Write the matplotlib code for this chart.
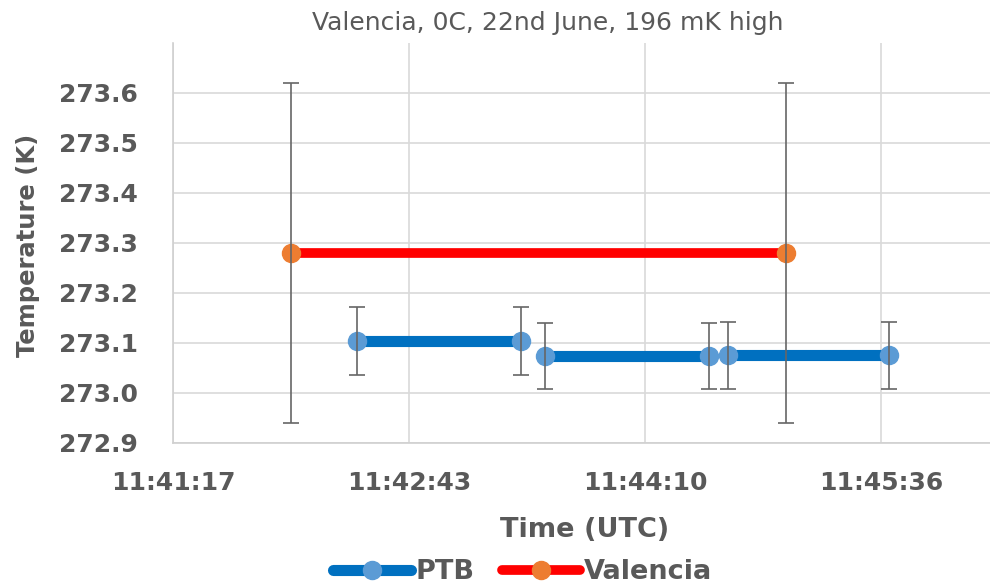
import numpy as np
import matplotlib
matplotlib.use('Agg')
import matplotlib.pyplot as plt
from matplotlib.ticker import FixedLocator, FuncFormatter

# data (times in UTC, None = break in line)
ptb_times = ['11:42:24', '11:43:24', None, '11:43:33', '11:44:33', None, '11:44:40', '11:45:39']
ptb_temp = [273.103, 273.103, None, 273.073, 273.073, None, 273.075, 273.075]
ptb_err = [0.068, 0.068, None, 0.066, 0.066, None, 0.067, 0.067]

val_times = ['11:42:00', '11:45:01']
val_temp = [273.28, 273.28]
val_err = [0.34, 0.34]

x_ticks = ['11:41:17', '11:42:43', '11:44:10', '11:45:36']
y_ticks = [272.9, 273.0, 273.1, 273.2, 273.3, 273.4, 273.5, 273.6]


def to_sec(t):
    if t is None:
        return np.nan
    h, m, s = t.split(':')
    return int(h) * 3600 + int(m) * 60 + int(s)


def as_float(v):
    return np.array([np.nan if a is None else a for a in v], dtype=float)


def fmt_time(x, pos):
    s = int(round(x))
    return '%d:%02d:%02d' % (s // 3600, (s % 3600) // 60, s % 60)


grey = '#595959'
px = as_float([to_sec(t) for t in ptb_times])
py = as_float(ptb_temp)
pe = as_float(ptb_err)
vx = as_float([to_sec(t) for t in val_times])
vy = as_float(val_temp)
ve = as_float(val_err)

# Excel axis: ticks every 0.001 day starting at 0.487 day
tick_pos = [0.487 * 86400 + i * 86.4 for i in range(len(x_ticks))]

fig = plt.figure(figsize=(9.9, 5.88), dpi=100)
ax = fig.add_axes([0.1747, 0.2466, 0.8253, 0.6803])

ax.plot(px, py, color='#0070C0', lw=8, solid_capstyle='round', marker='o',
        ms=13, mfc='#5B9BD5', mec='#5B9BD5', label='PTB', zorder=3)
ax.plot(vx, vy, color='#FF0000', lw=7, solid_capstyle='round', marker='o',
        ms=13, mfc='#ED7D31', mec='#ED7D31', label='Valencia', zorder=3)

ok = ~np.isnan(py)
ax.errorbar(px[ok], py[ok], yerr=pe[ok], fmt='none', ecolor='#666666',
            elinewidth=1.2, capsize=6, capthick=1.2, zorder=4)
ax.errorbar(vx, vy, yerr=ve, fmt='none', ecolor='#666666',
            elinewidth=1.2, capsize=6, capthick=1.2, zorder=4)

ax.set_xlim(tick_pos[0], tick_pos[0] + 299)
ax.set_ylim(272.9, 273.7)
ax.xaxis.set_major_locator(FixedLocator(tick_pos))
ax.xaxis.set_major_formatter(FuncFormatter(fmt_time))
ax.yaxis.set_major_locator(FixedLocator(y_ticks))
ax.yaxis.set_major_formatter(FuncFormatter(lambda v, p: '%.1f' % v))

ax.grid(True, color='#D9D9D9', lw=1.2, zorder=0)
ax.set_axisbelow(True)
for s in ['top', 'right']:
    ax.spines[s].set_visible(False)
for s in ['left', 'bottom']:
    ax.spines[s].set_color('#D0D0D0')
    ax.spines[s].set_linewidth(1.2)
ax.tick_params(length=0, colors=grey, labelsize=18)
ax.tick_params(axis='y', pad=25)
ax.tick_params(axis='x', pad=20)
for lab in ax.get_xticklabels() + ax.get_yticklabels():
    lab.set_fontweight('bold')

fig.text(0.5535, 0.949, 'Valencia, 0C, 22nd June, 196 mK high', color=grey,
         fontsize=18, ha='center', va='baseline')
ax.set_xlabel('Time (UTC)', color=grey, fontsize=19.5, fontweight='bold')
ax.xaxis.set_label_coords(0.504, -0.185)
ax.set_ylabel('Temperature (K)', color=grey, fontsize=17.5, fontweight='bold')
ax.yaxis.set_label_coords(-0.163, 0.495)

leg = fig.legend(loc='center', ncol=2, frameon=False, bbox_to_anchor=(0.528, 0.027),
                 handlelength=2.9, handletextpad=0.15, columnspacing=1.0,
                 borderpad=0, prop={'size': 19.5, 'weight': 'bold'})
for t in leg.get_texts():
    t.set_color(grey)

fig.savefig('out.png', dpi=100)
